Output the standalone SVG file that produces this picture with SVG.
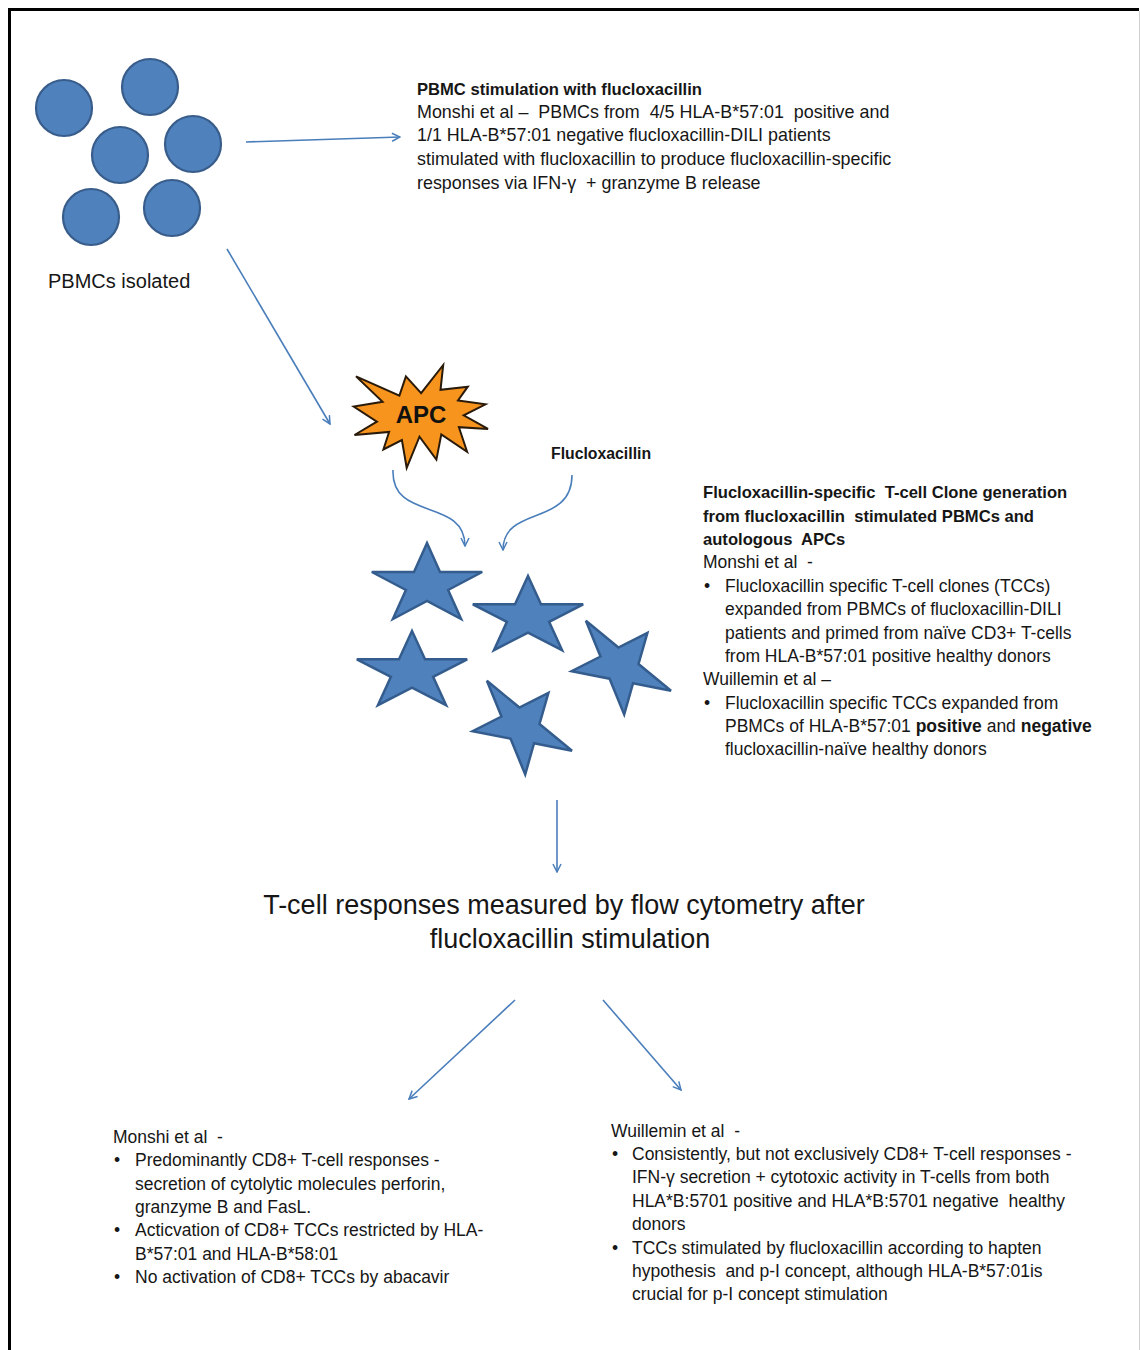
<svg xmlns="http://www.w3.org/2000/svg" width="1140" height="1350" viewBox="0 0 1140 1350">
<style>
.t{font-family:"Liberation Sans",Arial,sans-serif;font-size:17.5px;fill:#161616;white-space:pre}
.tb{font-family:"Liberation Sans",Arial,sans-serif;font-size:16.6px;font-weight:bold;fill:#161616;white-space:pre}
.big{font-family:"Liberation Sans",Arial,sans-serif;font-size:27px;fill:#161616;text-anchor:middle}
.cell{fill:#4f81bd;stroke:#385d8a;stroke-width:2.2}
.star{fill:#4f81bd;stroke:#345d8e;stroke-width:2.5;stroke-linejoin:miter}
.conn{fill:none;stroke:#4a7ebb;stroke-width:1.6;marker-end:url(#ah)}
</style>
<defs>
<marker id="ah" viewBox="0 0 10 10" refX="9" refY="5" markerWidth="10" markerHeight="10" markerUnits="userSpaceOnUse" orient="auto">
<path d="M1,1 L9,5 L1,9" fill="none" stroke="#4a7ebb" stroke-width="1.5"/>
</marker>
</defs>
<rect width="1140" height="1350" fill="#fff"/>
<g id="frame">
<path d="M9.5,1350 V9.5 H1139" fill="none" stroke="#000" stroke-width="3"/>
<line x1="1139.5" y1="11" x2="1139.5" y2="1350" stroke="#d0d0d0" stroke-width="1"/>
</g>
<g id="pbmcs">
<circle class="cell" cx="64" cy="108" r="28"/>
<circle class="cell" cx="150" cy="87" r="28"/>
<circle class="cell" cx="120" cy="155" r="28"/>
<circle class="cell" cx="193" cy="144" r="28"/>
<circle class="cell" cx="91" cy="217" r="28"/>
<circle class="cell" cx="172" cy="208" r="28"/>
<text class="t" x="48" y="288" style="font-size:20px">PBMCs isolated</text>
</g>
<g id="pbmc-stimulation">
<text class="tb" x="417" y="95">PBMC stimulation with flucloxacillin</text>
<text class="t" x="417" y="118" style="font-size:17.9px">Monshi et al –  PBMCs from  4/5 HLA-B*57:01  positive and</text>
<text class="t" x="417" y="141" style="font-size:17.9px">1/1 HLA-B*57:01 negative flucloxacillin-DILI patients</text>
<text class="t" x="417" y="165" style="font-size:17.9px">stimulated with flucloxacillin to produce flucloxacillin-specific</text>
<text class="t" x="417" y="189" style="font-size:17.9px">responses via IFN-γ  + granzyme B release</text>
</g>
<g id="apc">
<polygon points="421.1,393.2 405.9,376.4 399.4,395.6 356,376.4 382.6,401.8 353.7,406.6 376.9,421.7 354.5,435 389.1,432 383.4,449.5 401.9,440 406.7,468 419.5,436.7 436.4,459.6 441.3,434.4 467.1,451.8 458.9,427.2 488,428.9 463.7,415.4 485.5,404.3 458,400.4 467.8,386.7 440.5,389.8 443.2,365" fill="#f7941d" stroke="#2a1a0a" stroke-width="2" stroke-linejoin="miter"/>
<text x="421" y="423" text-anchor="middle" style="font-family:'Liberation Sans',Arial,sans-serif;font-size:24px;font-weight:bold;fill:#111">APC</text>
</g>
<g id="flucloxacillin">
<text class="tb" x="551" y="459" style="font-size:15.8px">Flucloxacillin</text>
</g>
<g id="tcells">
<polygon class="star" points="427,543 440,572 482.2,572 448.1,590 461.1,619 427,601 392.9,619 405.9,590 371.8,572 414,572"/>
<polygon class="star" points="528,576 541,604.3 583.2,604.3 549.1,621.8 562.1,650.2 528,632.7 493.9,650.2 506.9,621.8 472.8,604.3 515,604.3"/>
<polygon class="star" points="412,631 425,659.3 467.2,659.3 433.1,676.8 446.1,705.2 412,687.7 377.9,705.2 390.9,676.8 356.8,659.3 399,659.3"/>
<polygon class="star" points="647.4,632.8 638.5,664 671,690.8 633,683.3 624.2,714.5 609.6,678.7 571.6,671.2 600.5,656.5 585.9,620.7 618.4,647.5"/>
<polygon class="star" points="548.4,692.8 539.5,724 572,750.8 534,743.3 525.2,774.5 510.6,738.7 472.6,731.2 501.5,716.5 486.9,680.7 519.4,707.5"/>
</g>
<g id="clone-generation">
<text class="tb" x="703" y="498">Flucloxacillin-specific  T-cell Clone generation</text>
<text class="tb" x="703" y="522">from flucloxacillin  stimulated PBMCs and</text>
<text class="tb" x="703" y="545">autologous  APCs</text>
<text class="t" x="703" y="568">Monshi et al  -</text>
<text class="t" x="704" y="592">•</text>
<text class="t" x="725" y="592">Flucloxacillin specific T-cell clones (TCCs)</text>
<text class="t" x="725" y="615">expanded from PBMCs of flucloxacillin-DILI</text>
<text class="t" x="725" y="639">patients and primed from naïve CD3+ T-cells</text>
<text class="t" x="725" y="662">from HLA-B*57:01 positive healthy donors</text>
<text class="t" x="703" y="685">Wuillemin et al –</text>
<text class="t" x="704" y="709">•</text>
<text class="t" x="725" y="709">Flucloxacillin specific TCCs expanded from</text>
<text class="t" x="725" y="732">PBMCs of HLA-B*57:01 <tspan font-weight="bold">positive</tspan> and <tspan font-weight="bold">negative</tspan></text>
<text class="t" x="725" y="755">flucloxacillin-naïve healthy donors</text>
</g>
<g id="flow-cytometry">
<text class="big" x="564" y="914">T-cell responses measured by flow cytometry after</text>
<text class="big" x="570" y="948">flucloxacillin stimulation</text>
</g>
<g id="monshi-results">
<text class="t" x="113" y="1143">Monshi et al  -</text>
<text class="t" x="114" y="1166">•</text>
<text class="t" x="135" y="1166">Predominantly CD8+ T-cell responses -</text>
<text class="t" x="135" y="1190">secretion of cytolytic molecules perforin,</text>
<text class="t" x="135" y="1213">granzyme B and FasL.</text>
<text class="t" x="114" y="1236">•</text>
<text class="t" x="135" y="1236">Acticvation of CD8+ TCCs restricted by HLA-</text>
<text class="t" x="135" y="1260">B*57:01 and HLA-B*58:01</text>
<text class="t" x="114" y="1283">•</text>
<text class="t" x="135" y="1283">No activation of CD8+ TCCs by abacavir</text>
</g>
<g id="wuillemin-results">
<text class="t" x="611" y="1137">Wuillemin et al  -</text>
<text class="t" x="612" y="1160">•</text>
<text class="t" x="632" y="1160">Consistently, but not exclusively CD8+ T-cell responses -</text>
<text class="t" x="632" y="1183">IFN-γ secretion + cytotoxic activity in T-cells from both</text>
<text class="t" x="632" y="1207">HLA*B:5701 positive and HLA*B:5701 negative  healthy</text>
<text class="t" x="632" y="1230">donors</text>
<text class="t" x="612" y="1254">•</text>
<text class="t" x="632" y="1254">TCCs stimulated by flucloxacillin according to hapten</text>
<text class="t" x="632" y="1277">hypothesis  and p-I concept, although HLA-B*57:01is</text>
<text class="t" x="632" y="1300">crucial for p-I concept stimulation</text>
</g>
<g id="connectors">
<path class="conn" d="M246,142 L400,137"/>
<path class="conn" d="M227,249 L330,424"/>
<path class="conn" d="M393,470 C391,522 465,497 465,546"/>
<path class="conn" d="M572,475 C572,527 503,505 503,550"/>
<path class="conn" d="M557,800 L557,872"/>
<path class="conn" d="M515,1000 L409,1099"/>
<path class="conn" d="M603,1000 L681,1090"/>
</g>
</svg>
